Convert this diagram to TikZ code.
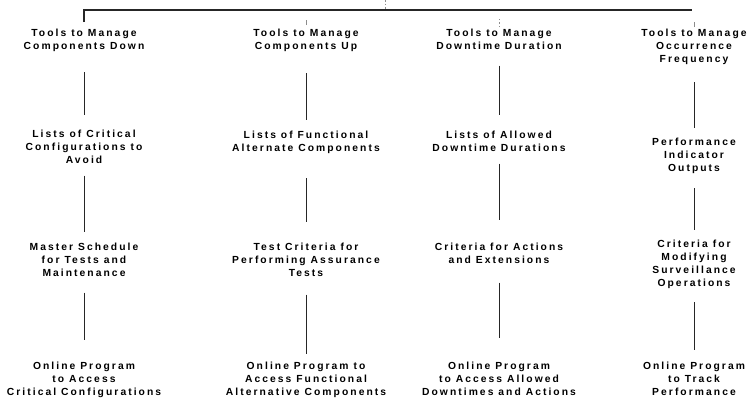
\documentclass[tikz,border=0pt]{standalone}
\usepackage{fontspec}
\newfontfamily\diagfont{Liberation Sans}[LetterSpace=20]
\begin{document}
\begin{tikzpicture}[x=1pt,y=-1pt,
  lbl/.style={font={\diagfont\bfseries\fontsize{10.3}{13}\selectfont}, align=center, inner sep=0pt, anchor=north, text=black, xshift=1pt},
  link/.style={line width=0.8pt, draw=black!85},
  topline/.style={line width=1.2pt, draw=black!85},
  faint/.style={line width=0.6pt, draw=black!45},
  faintdot/.style={line width=0.6pt, draw=black!45, dash pattern=on 1.5pt off 2pt}]
\useasboundingbox (0,0) rectangle (753,405);
\fill[white] (0,0) rectangle (753,405);

% column 1
\node[lbl] (n11) at (83,29.3) {Tools to Manage\\Components Down};
\node[lbl] (n12) at (83,130.3) {Lists of Critical\\Configurations to\\Avoid};
\node[lbl] (n13) at (83,243.3) {Master Schedule\\for Tests and\\Maintenance};
\node[lbl] (n14) at (83,362.3) {Online Program\\to Access\\Critical Configurations};
% column 2
\node[lbl] (n21) at (305,29.3) {Tools to Manage\\Components Up};
\node[lbl] (n22) at (305,131.3) {Lists of Functional\\Alternate Components};
\node[lbl] (n23) at (305,243.3) {Test Criteria for\\Performing Assurance\\Tests};
\node[lbl] (n24) at (305,362.3) {Online Program to\\Access Functional\\Alternative Components};
% column 3
\node[lbl] (n31) at (498,29.3) {Tools to Manage\\Downtime Duration};
\node[lbl] (n32) at (498,131.3) {Lists of Allowed\\Downtime Durations};
\node[lbl] (n33) at (498,243.3) {Criteria for Actions\\and Extensions};
\node[lbl] (n34) at (498,362.3) {Online Program\\to Access Allowed\\Downtimes and Actions};
% column 4
\node[lbl] (n41) at (693,29.3) {Tools to Manage\\Occurrence\\Frequency};
\node[lbl] (n42) at (693,138.3) {Performance\\Indicator\\Outputs};
\node[lbl] (n43) at (693,240.3) {Criteria for\\Modifying\\Surveillance\\Operations};
\node[lbl] (n44) at (693,362.3) {Online Program\\to Track\\Performance};

% top bracket
\coordinate (tr) at (692,10);
\coordinate (apex) at (385,0);
\draw[topline, shorten <=7.3pt] (n11.north) |- (tr);
\draw[faintdot] (apex) -- (apex |- tr);
\draw[faint, shorten <=4.3pt, shorten >=10pt] (n21.north) -- (n21.north |- tr);
\draw[faintdot, shorten <=2.3pt, shorten >=8pt] (n31.north) -- (n31.north |- tr);
\draw[faint, shorten <=2.3pt, shorten >=12pt] (n41.north) -- (n41.north |- tr);

% column links
\draw[link, shorten <=20.1pt, shorten >=15.3pt] (n11.south) -- (n12.north);
\draw[link, shorten <=11.3pt, shorten >=11.3pt] (n12.south) -- (n13.north);
\draw[link, shorten <=15.3pt, shorten >=22.3pt] (n13.south) -- (n14.north);

\draw[link, shorten <=21.1pt, shorten >=11.3pt] (n21.south) -- (n22.north);
\draw[link, shorten <=24.1pt, shorten >=21.3pt] (n22.south) -- (n23.north);
\draw[link, shorten <=17.3pt, shorten >=8.3pt] (n23.south) -- (n24.north);

\draw[link, shorten <=15.3pt, shorten >=16.3pt] (n31.south) -- (n32.north);
\draw[link, shorten <=11.3pt, shorten >=23.3pt] (n32.south) -- (n33.north);
\draw[link, shorten <=18.3pt, shorten >=24.3pt] (n33.south) -- (n34.north);

\draw[link, shorten <=17.1pt, shorten >=10.3pt] (n41.south) -- (n42.north);
\draw[link, shorten <=14.1pt, shorten >=10.3pt] (n42.south) -- (n43.north);
\draw[link, shorten <=13.1pt, shorten >=12.3pt] (n43.south) -- (n44.north);
\end{tikzpicture}
\end{document}
